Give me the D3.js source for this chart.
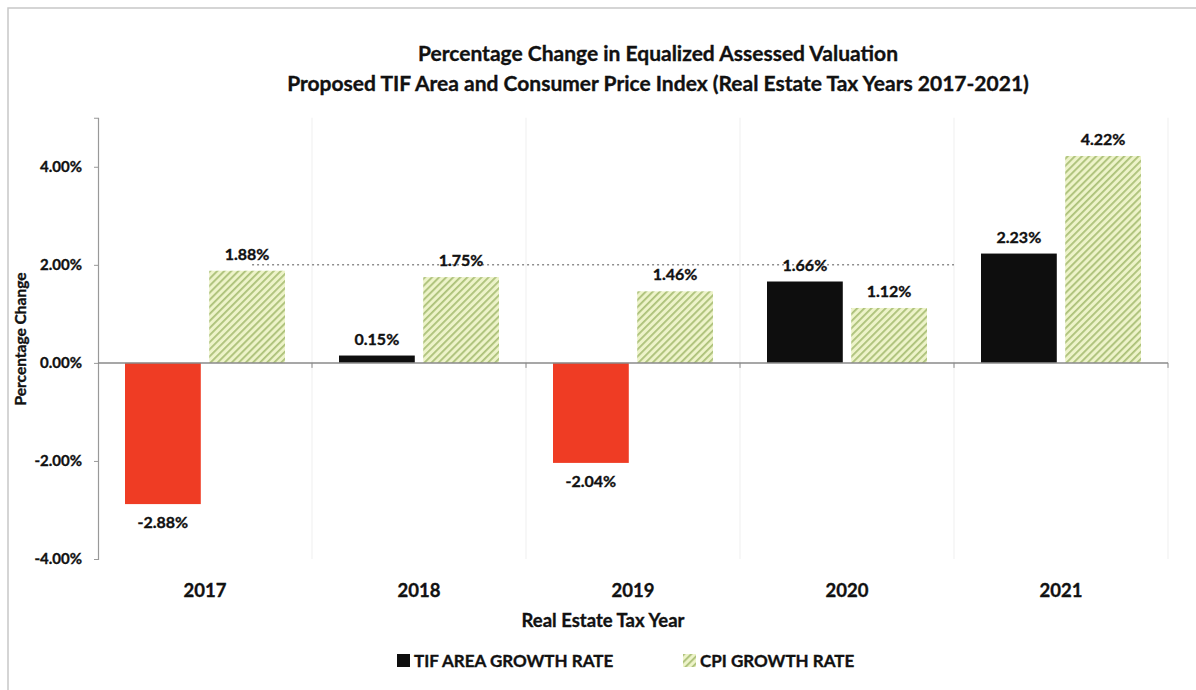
<!DOCTYPE html>
<html>
<head>
<meta charset="utf-8">
<script src="https://cdn.jsdelivr.net/npm/d3@7"></script>
<style>
  body { margin: 0; background: #fff; }
  svg text { font-family: Lato, "Open Sans", sans-serif; font-weight: bold; fill: #111; stroke: #111; stroke-width: 0.35px; }
</style>
</head>
<body>
<svg width="1196" height="690"></svg>
<script>
let years = ['2017', '2018', '2019', '2020', '2021'];
let tifRates = [-2.88, 0.15, -2.04, 1.66, 2.23];
let cpiRates = [1.88, 1.75, 1.46, 1.12, 4.22];
let yTicks = [-4, -2, 0, 2, 4];
let seriesNames = ['TIF AREA GROWTH RATE', 'CPI GROWTH RATE'];

let width = 1196;
let height = 690;
let plotLeft = 98, plotRight = 1168, plotTop = 117.75, plotBottom = 559;

let svg = d3.select('svg')
    .attr('width', width)
    .attr('height', height);

// hatch for CPI bars
let defs = svg.append('defs');
let hatch = defs.append('pattern')
    .attr('id', 'hatch')
    .attr('patternUnits', 'userSpaceOnUse')
    .attr('width', 5)
    .attr('height', 5)
    .attr('patternTransform', 'rotate(45)');
hatch.append('rect')
    .attr('width', 5).attr('height', 5)
    .attr('fill', '#edf3c9');
hatch.append('rect')
    .attr('width', 1.8).attr('height', 5)
    .attr('fill', '#abc078');

// outer frame
svg.append('path')
    .attr('d', `M8,${height} V8 H${width}`)
    .attr('fill', 'none')
    .attr('stroke', '#c8c8c8')
    .attr('stroke-width', 1.5);

let xScale = d3.scaleBand()
    .domain(years)
    .range([plotLeft, plotRight]);

let subScale = d3.scaleBand()
    .domain(['tif', 'cpi'])
    .range([27, 187])
    .paddingInner(0.1);

let yScale = d3.scaleLinear()
    .domain([-4, 5])
    .range([plotBottom, plotTop]);

let edgeX = d => d === 'end' ? plotRight : xScale(d);

// faint vertical grid at category boundaries
svg.append('g')
    .selectAll('line')
    .data(years.slice(1).concat(['end']))
    .enter()
    .append('line')
        .attr('x1', edgeX)
        .attr('x2', edgeX)
        .attr('y1', plotTop)
        .attr('y2', plotBottom)
        .attr('stroke', '#efefef')
        .attr('stroke-width', 1);

// dotted 2% line (as it shows on the original)
svg.append('line')
    .attr('x1', xScale('2017') + xScale.bandwidth() * 0.72)
    .attr('x2', xScale('2021'))
    .attr('y1', yScale(2))
    .attr('y2', yScale(2))
    .attr('stroke', '#555')
    .attr('stroke-width', 1)
    .attr('stroke-dasharray', '2,3');

// y axis
let yAxis = d3.axisLeft(yScale)
    .tickValues(yTicks)
    .tickSize(4)
    .tickFormat(d => d.toFixed(2) + '%');

let yG = svg.append('g')
    .attr('transform', `translate(${plotLeft},0)`)
    .call(yAxis);
yG.select('.domain').attr('stroke', '#999').attr('stroke-width', 1.2);
yG.selectAll('.tick line').attr('stroke', '#999');
yG.selectAll('.tick text')
    .attr('x', -16)
    .style('font-size', '15px');

// bars
let groups = svg.append('g')
    .selectAll('.year')
    .data(years)
    .enter()
    .append('g')
        .classed('year', true)
        .attr('transform', d => `translate(${xScale(d)},0)`);

groups.append('rect')
    .attr('x', subScale('tif'))
    .attr('width', subScale.bandwidth())
    .attr('y', (d, i) => yScale(Math.max(0, tifRates[i])))
    .attr('height', (d, i) => Math.abs(yScale(tifRates[i]) - yScale(0)))
    .attr('fill', (d, i) => tifRates[i] < 0 ? '#ef3c24' : '#0e0e0e');

groups.append('rect')
    .attr('x', subScale('cpi'))
    .attr('width', subScale.bandwidth())
    .attr('y', (d, i) => yScale(Math.max(0, cpiRates[i])))
    .attr('height', (d, i) => Math.abs(yScale(cpiRates[i]) - yScale(0)))
    .attr('fill', 'url(#hatch)');

// value labels
groups.append('text')
    .attr('x', subScale('tif') + subScale.bandwidth() / 2)
    .attr('y', (d, i) => tifRates[i] < 0 ? yScale(tifRates[i]) + 24 : yScale(tifRates[i]) - 11)
    .attr('text-anchor', 'middle')
    .style('font-size', '16px')
    .text((d, i) => tifRates[i].toFixed(2) + '%');

groups.append('text')
    .attr('x', subScale('cpi') + subScale.bandwidth() / 2)
    .attr('y', (d, i) => yScale(cpiRates[i]) - 11)
    .attr('text-anchor', 'middle')
    .style('font-size', '16px')
    .text((d, i) => cpiRates[i].toFixed(2) + '%');

// zero line with category ticks
let zeroG = svg.append('g')
    .attr('transform', `translate(0,${yScale(0)})`);
zeroG.append('line')
    .attr('x1', plotLeft)
    .attr('x2', plotRight)
    .attr('stroke', '#8a8a8a')
    .attr('stroke-width', 1.5);
zeroG.selectAll('.cat-tick')
    .data(years.slice(1).concat(['end']))
    .enter()
    .append('line')
        .attr('x1', edgeX)
        .attr('x2', edgeX)
        .attr('y1', 0)
        .attr('y2', 5)
        .attr('stroke', '#8a8a8a');

// category labels
svg.append('g')
    .selectAll('text')
    .data(years)
    .enter()
    .append('text')
        .attr('x', d => xScale(d) + xScale.bandwidth() / 2)
        .attr('y', 597)
        .attr('text-anchor', 'middle')
        .style('font-size', '18.5px')
        .text(d => d);

// axis titles
svg.append('text')
    .attr('x', 603)
    .attr('y', 627)
    .attr('text-anchor', 'middle')
    .style('font-size', '18.5px')
    .text('Real Estate Tax Year');

svg.append('text')
    .attr('transform', 'translate(26,339) rotate(-90)')
    .attr('text-anchor', 'middle')
    .style('font-size', '15.5px')
    .text('Percentage Change');

// title
svg.append('text')
    .attr('x', 658)
    .attr('y', 61)
    .attr('text-anchor', 'middle')
    .style('font-size', '21px')
    .text('Percentage Change in Equalized Assessed Valuation');
svg.append('text')
    .attr('x', 658)
    .attr('y', 91)
    .attr('text-anchor', 'middle')
    .style('font-size', '21px')
    .text('Proposed TIF Area and Consumer Price Index (Real Estate Tax Years 2017-2021)');

// legend
let legendX = [397, 683];
let legend = svg.append('g')
    .selectAll('.legend')
    .data(seriesNames)
    .enter()
    .append('g')
        .classed('legend', true)
        .attr('transform', (d, i) => `translate(${legendX[i]},654)`);

legend.append('rect')
    .attr('width', 13)
    .attr('height', 13)
    .attr('fill', (d, i) => i === 0 ? '#0e0e0e' : 'url(#hatch)');

legend.append('text')
    .attr('x', 17)
    .attr('y', 13)
    .style('font-size', '17px')
    .text(d => d);
</script>
</body>
</html>
